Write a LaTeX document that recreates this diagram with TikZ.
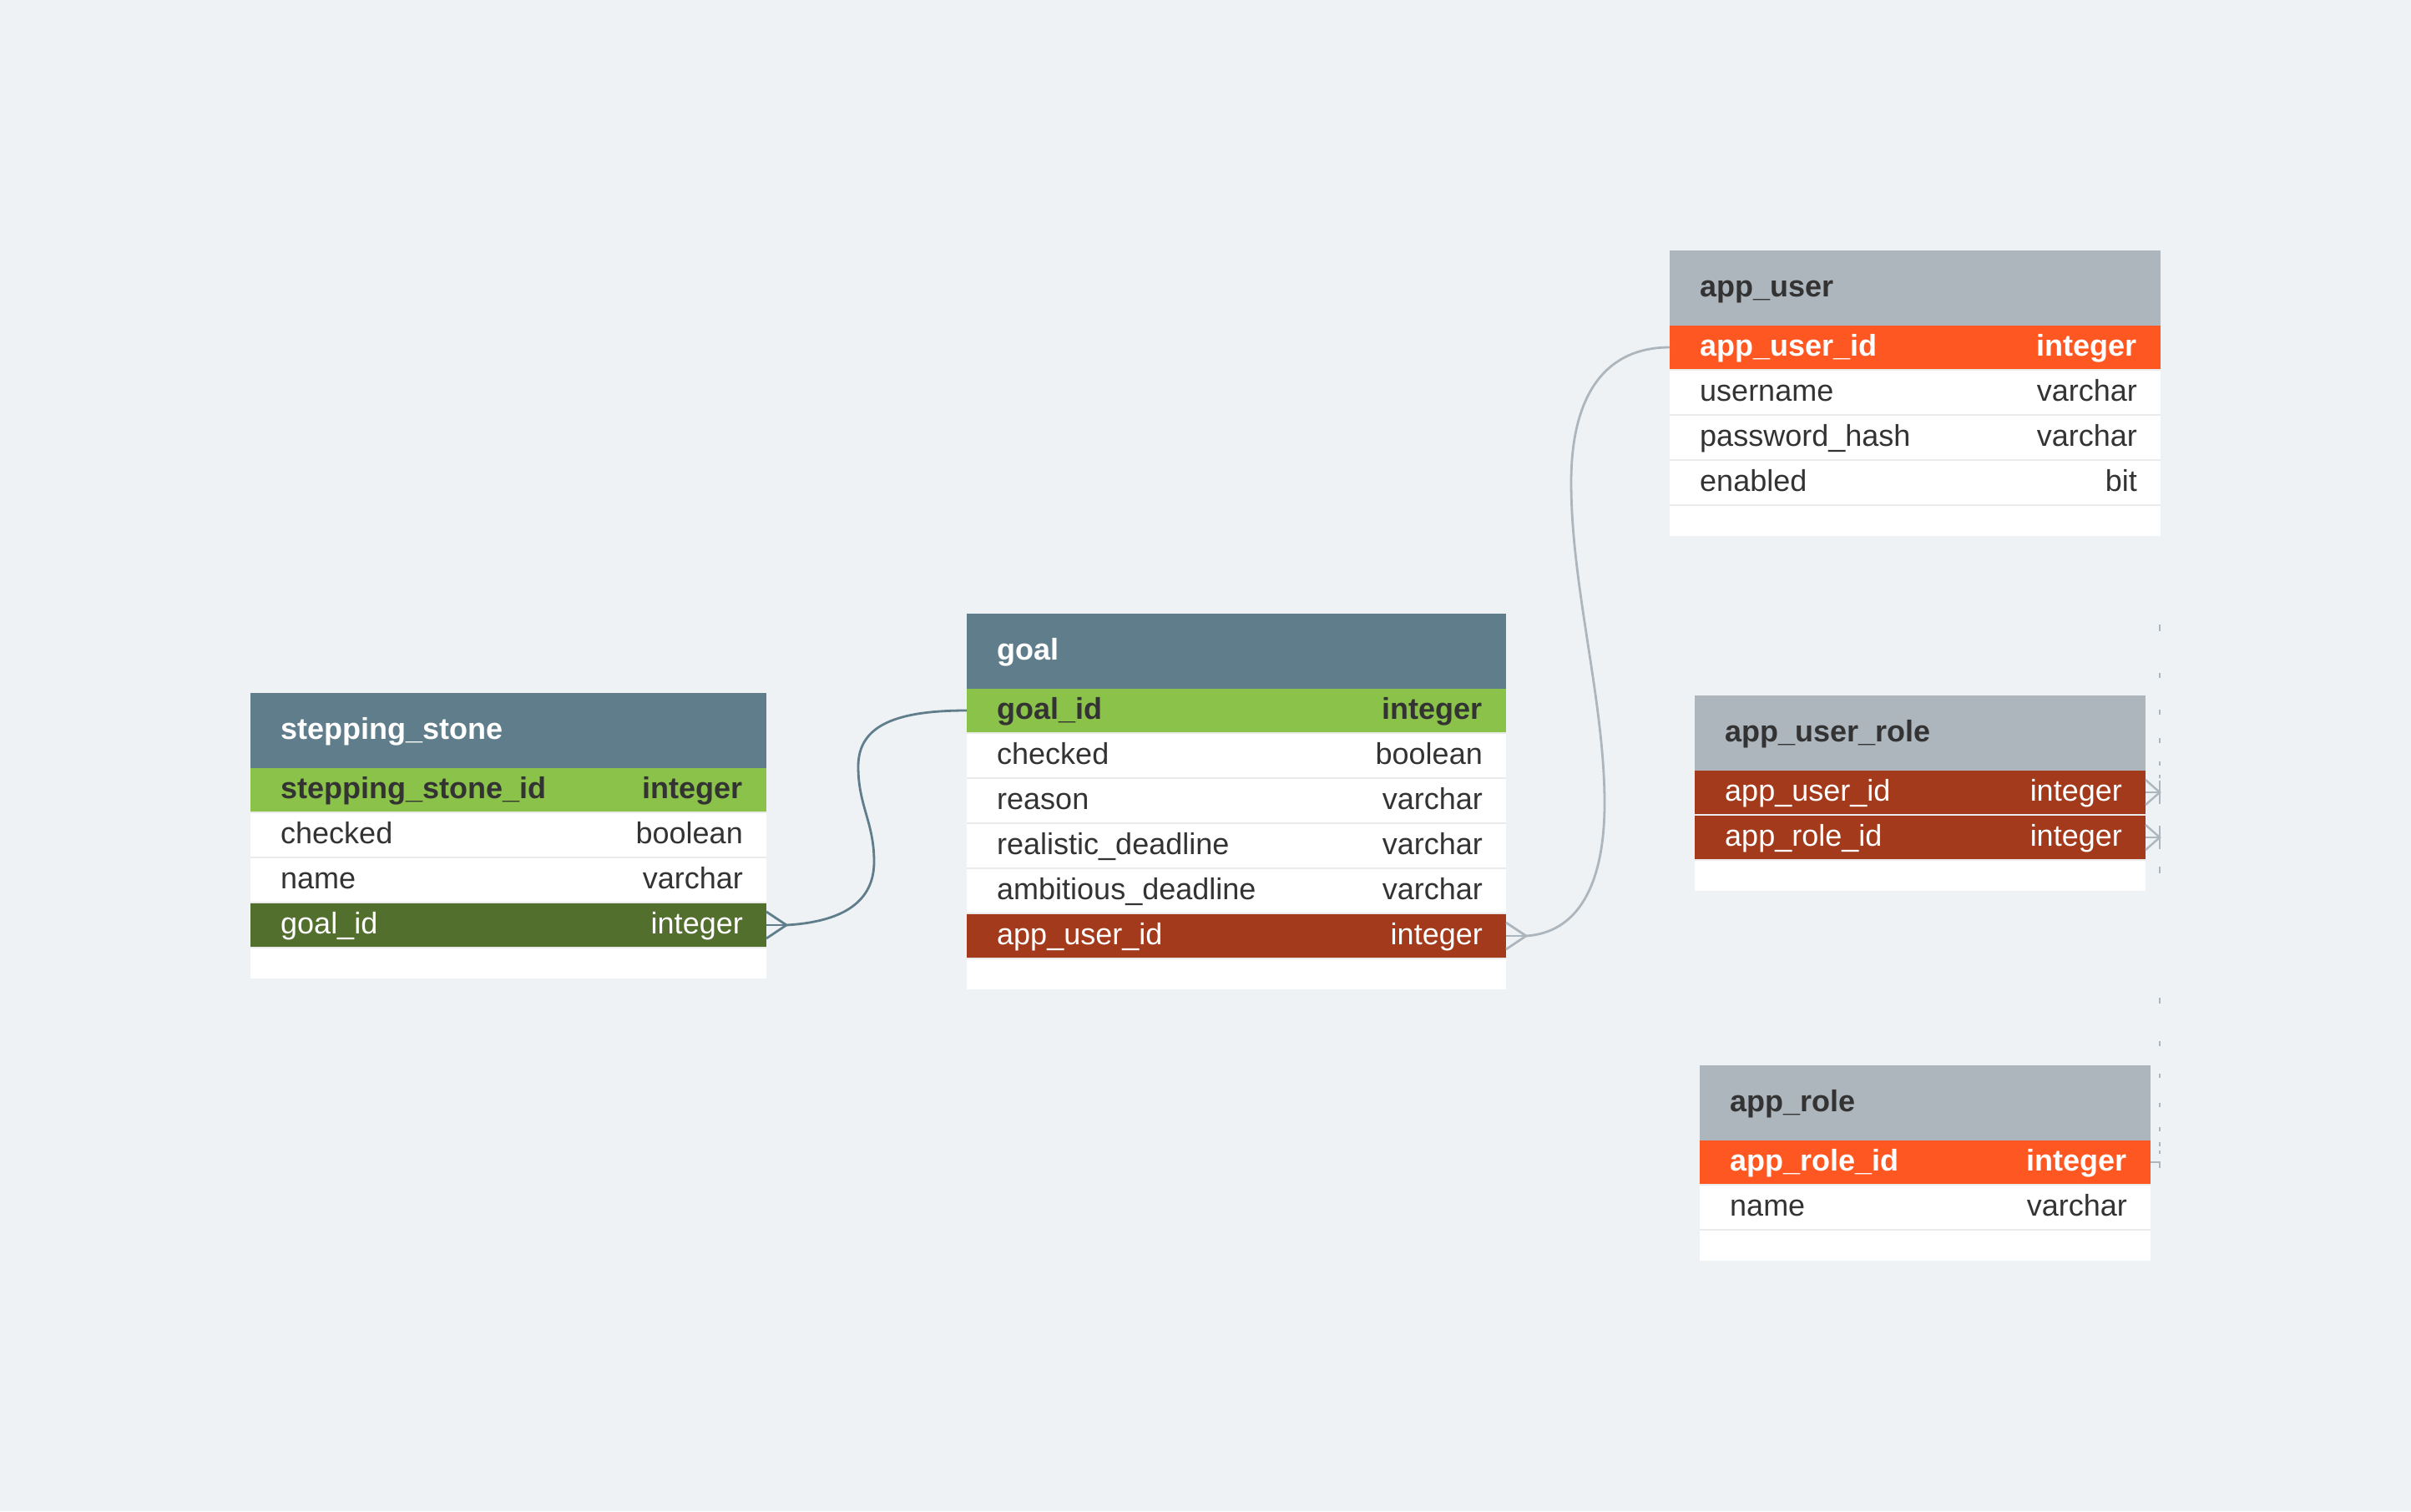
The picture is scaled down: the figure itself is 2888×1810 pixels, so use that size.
\documentclass[tikz,border=0pt]{standalone}
\usepackage{fontspec}
\setmainfont{Liberation Sans}
\definecolor{bg}{HTML}{EEF2F5}
\definecolor{slate}{HTML}{607D8B}
\definecolor{hgray}{HTML}{ADB5BD}
\definecolor{pkgreen}{HTML}{8BC34A}
\definecolor{fkgreen}{HTML}{536F2D}
\definecolor{pkorange}{HTML}{FF5722}
\definecolor{fkred}{HTML}{A23A1B}
\definecolor{txt}{HTML}{333333}
\definecolor{sepc}{HTML}{EBEBEB}
% frame of a table: #1 left, #2 right, #3 top, #4 rows, #5 header colour
\newcommand{\erframe}[5]{%
  \fill[#5] (#1,#3) rectangle (#2,#3+90);
  \fill[white] (#1,#3+90) rectangle (#2,#3+126+#4*54);
  \foreach \k in {1,...,#4}{\fill[sepc] (#1,#3+88+\k*54) rectangle (#2,#3+90+\k*54);}
}
% one row: #1 name, #2 left, #3 right, #4 row top, #5 fill, #6 text style, #7 field, #8 type
\newcommand{\errow}[8]{%
  \fill[#5] (#2,#4) rectangle (#3,#4+52);
  \node[#6,anchor=base west] (#1f) at (#2+36,#4+36) {#7};
  \node[#6,anchor=base east] (#1t) at (#3-28,#4+36) {#8};
  \coordinate (#1L) at (#2,#4+26);
  \coordinate (#1R) at (#3,#4+26);
}
\begin{document}
\begin{tikzpicture}[x=1pt,y=-1pt,
  ftxt/.style={inner sep=0pt,font=\fontsize{36}{43}\selectfont,text=txt},
  fbold/.style={inner sep=0pt,font=\fontsize{36}{43}\selectfont\bfseries,text=txt},
  hdrwhite/.style={fbold,text=white},
  hdrdark/.style={fbold,text=txt},
  pkdark/.style={fbold,text=txt},
  pkwhite/.style={fbold,text=white},
  fkwhite/.style={ftxt,text=white},
  plain/.style={ftxt,text=txt},
  relslate/.style={draw=slate,line width=2.8pt},
  relgray/.style={draw=hgray,line width=2.8pt},
  dashmark/.style={draw=hgray,line width=2.4pt}]
\useasboundingbox (0,0) rectangle (2888,1810);
\fill[bg] (0,0) rectangle (2888,1810);

% ---------- stepping_stone ----------
\erframe{300}{918}{830}{4}{slate}
\node[hdrwhite,anchor=base west] (sstitle) at (336,885) {stepping\_stone};
\errow{ssa}{300}{918}{920}{pkgreen}{pkdark}{stepping\_stone\_id}{integer}
\errow{ssb}{300}{918}{974}{white}{plain}{checked}{boolean}
\errow{ssc}{300}{918}{1028}{white}{plain}{name}{varchar}
\errow{ssd}{300}{918}{1082}{fkgreen}{fkwhite}{goal\_id}{integer}

% ---------- goal ----------
\erframe{1158}{1804}{735}{6}{slate}
\node[hdrwhite,anchor=base west] (goaltitle) at (1194,790) {goal};
\errow{ga}{1158}{1804}{825}{pkgreen}{pkdark}{goal\_id}{integer}
\errow{gb}{1158}{1804}{879}{white}{plain}{checked}{boolean}
\errow{gc}{1158}{1804}{933}{white}{plain}{reason}{varchar}
\errow{gd}{1158}{1804}{987}{white}{plain}{realistic\_deadline}{varchar}
\errow{ge}{1158}{1804}{1041}{white}{plain}{ambitious\_deadline}{varchar}
\errow{gf}{1158}{1804}{1095}{fkred}{fkwhite}{app\_user\_id}{integer}

% ---------- app_user ----------
\erframe{2000}{2588}{300}{4}{hgray}
\node[hdrdark,anchor=base west] (autitle) at (2036,355) {app\_user};
\errow{aua}{2000}{2588}{390}{pkorange}{pkwhite}{app\_user\_id}{integer}
\errow{aub}{2000}{2588}{444}{white}{plain}{username}{varchar}
\errow{auc}{2000}{2588}{498}{white}{plain}{password\_hash}{varchar}
\errow{aud}{2000}{2588}{552}{white}{plain}{enabled}{bit}

% ---------- app_user_role ----------
\erframe{2030}{2570}{833}{2}{hgray}
\node[hdrdark,anchor=base west] (aurtitle) at (2066,888) {app\_user\_role};
\errow{aura}{2030}{2570}{923}{fkred}{fkwhite}{app\_user\_id}{integer}
\errow{aurb}{2030}{2570}{977}{fkred}{fkwhite}{app\_role\_id}{integer}

% ---------- app_role ----------
\erframe{2036}{2576}{1276}{2}{hgray}
\node[hdrdark,anchor=base west] (artitle) at (2072,1331) {app\_role};
\errow{ara}{2036}{2576}{1366}{pkorange}{pkwhite}{app\_role\_id}{integer}
\errow{arb}{2036}{2576}{1420}{white}{plain}{name}{varchar}

% ---------- stepping_stone.goal_id -> goal.goal_id ----------
\coordinate (sstip) at ([xshift=24pt]ssdR);
\draw[relslate] ([yshift=16pt]ssdR) -- (sstip) -- ([yshift=-16pt]ssdR);
\draw[relslate] (ssdR) -- (sstip);
\coordinate (sb1) at (1047,1032);
\coordinate (sb2) at (1028,918);
\draw[relslate] (sstip) .. controls +(68,-4) and +(0,48) .. (sb1)
  .. controls +(0,-47) and +(0,47) .. (sb2)
  .. controls +(0,-50) and +(-83,0) .. (gaL);

% ---------- goal.app_user_id -> app_user.app_user_id ----------
\coordinate (gtip) at ([xshift=24pt]gfR);
\draw[relgray] ([yshift=16pt]gfR) -- (gtip) -- ([yshift=-16pt]gfR);
\draw[relgray] (gfR) -- (gtip);
\coordinate (gb1) at (1922,962);
\coordinate (gb2) at (1882,578);
\draw[relgray] (gtip) .. controls +(62,-4) and +(0,98) .. (gb1)
  .. controls +(0,-122) and +(0,125) .. (gb2)
  .. controls +(0,-108) and +(-75,0) .. (auaL);

% ---------- app_user_role links at the right edge ----------
\coordinate (aurtipa) at ([xshift=17pt]auraR);
\coordinate (aurtipb) at ([xshift=17pt]aurbR);
\draw[relgray,line width=2.4pt] ([yshift=15pt]auraR) -- (aurtipa) -- ([yshift=-15pt]auraR);
\draw[relgray,line width=2.4pt] (auraR) -- (aurtipa);
\draw[relgray,line width=2.4pt] ([yshift=15pt]aurbR) -- (aurtipb) -- ([yshift=-15pt]aurbR);
\draw[relgray,line width=2.4pt] (aurbR) -- (aurtipb);
\draw[dashmark] ([yshift=-14pt]aurtipa) -- ([yshift=14pt]aurtipa);
\draw[dashmark] ([yshift=-14pt]aurtipb) -- ([yshift=14pt]aurtipb);
\foreach \ya/\yb in {748/756,806/812,850/856,884/890,912/917,928/932,1038/1046}
  {\draw[dashmark] (2587,\ya) -- (2587,\yb);}
\foreach \ya/\yb in {1195/1202,1247/1253,1286/1291,1321/1326,1350/1355,1368/1373,1378/1382}
  {\draw[dashmark] (2587,\ya) -- (2587,\yb);}
\coordinate (arlink) at ([xshift=11pt]araR);
\draw[dashmark] (araR) -- (arlink) -- ([yshift=-7pt]arlink);
\end{tikzpicture}
\end{document}
